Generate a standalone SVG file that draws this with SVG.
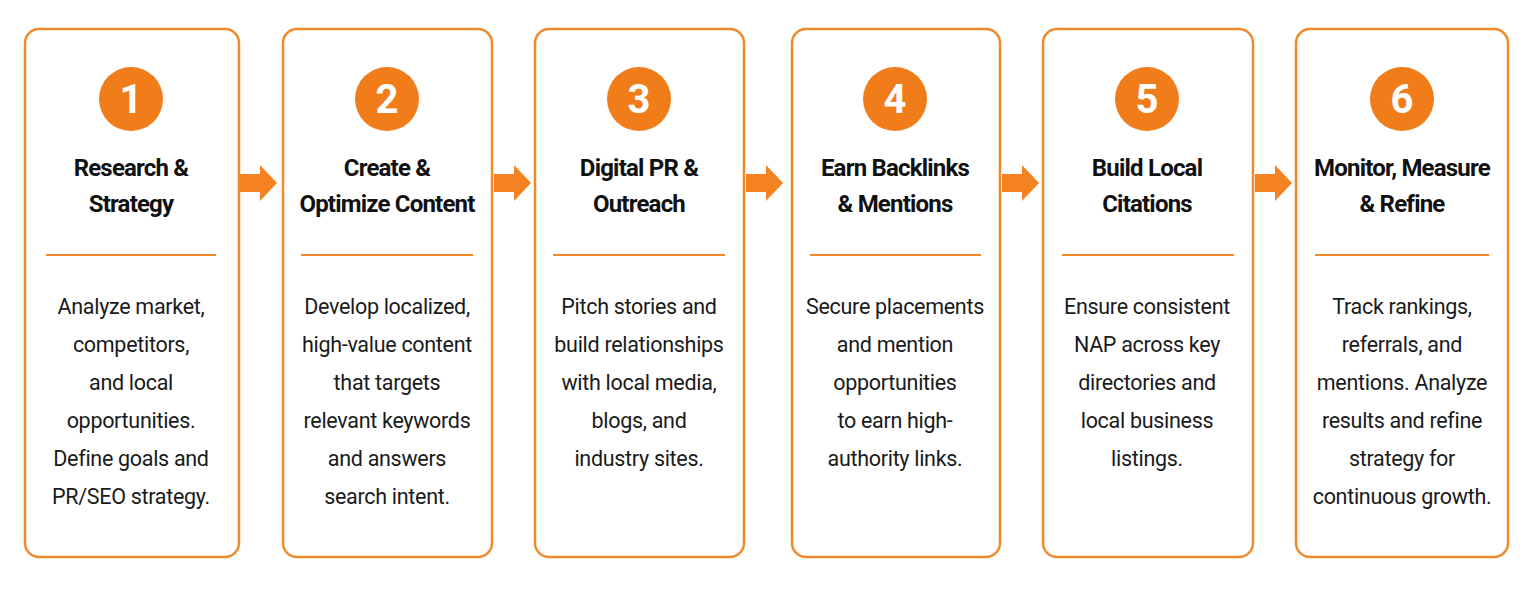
<svg xmlns="http://www.w3.org/2000/svg" width="1535" height="589" viewBox="0 0 1535 589">
<defs>
<style>
.card{fill:#fff;stroke:#f08a2c;stroke-width:2.5}
.num{fill:#f07d1a}
.numt{fill:#fff;font-family:Roboto,"Liberation Sans",sans-serif;font-weight:bold;font-size:40px;text-anchor:middle}
.title{fill:#111;font-family:Roboto,"Liberation Sans",sans-serif;font-weight:bold;font-size:24px;text-anchor:middle;letter-spacing:-0.8px}
.body{fill:#1a1a1a;font-family:Roboto,"Liberation Sans",sans-serif;font-size:21.5px;text-anchor:middle;letter-spacing:-0.3px}
.div{stroke:#f08a2c;stroke-width:2}
.arr{fill:#f58220}
</style>
<path id="a" d="M0,-9 H20 V-18 L37,0 L20,18 V9 H0 Z"/>
</defs>
<rect width="1535" height="589" fill="#fff"/>
<g id="connectors">
<use href="#a" class="arr" x="240" y="183"/>
<use href="#a" class="arr" x="494" y="183"/>
<use href="#a" class="arr" x="746" y="183"/>
<use href="#a" class="arr" x="1002" y="183"/>
<use href="#a" class="arr" x="1255" y="183"/>
</g>
<g id="n1">
<rect class="card" x="25" y="29" width="214" height="528" rx="14"/>
<circle class="num" cx="131" cy="99" r="32"/><text class="numt" x="131" y="113">1</text>
<text class="title" x="131" y="176">Research &amp;</text><text class="title" x="131" y="212">Strategy</text>
<line class="div" x1="46" y1="255" x2="216" y2="255"/>
<text class="body" x="131" y="314">Analyze market,</text><text class="body" x="131" y="352">competitors,</text><text class="body" x="131" y="390">and local</text><text class="body" x="131" y="428">opportunities.</text><text class="body" x="131" y="466">Define goals and</text><text class="body" x="131" y="504">PR/SEO strategy.</text>
</g>
<g id="n2">
<rect class="card" x="283" y="29" width="209" height="528" rx="14"/>
<circle class="num" cx="387" cy="99" r="32"/><text class="numt" x="387" y="113">2</text>
<text class="title" x="387" y="176">Create &amp;</text><text class="title" x="387" y="212">Optimize Content</text>
<line class="div" x1="301" y1="255" x2="473" y2="255"/>
<text class="body" x="387" y="314">Develop localized,</text><text class="body" x="387" y="352">high-value content</text><text class="body" x="387" y="390">that targets</text><text class="body" x="387" y="428">relevant keywords</text><text class="body" x="387" y="466">and answers</text><text class="body" x="387" y="504">search intent.</text>
</g>
<g id="n3">
<rect class="card" x="535" y="29" width="209" height="528" rx="14"/>
<circle class="num" cx="639" cy="99" r="32"/><text class="numt" x="639" y="113">3</text>
<text class="title" x="639" y="176">Digital PR &amp;</text><text class="title" x="639" y="212">Outreach</text>
<line class="div" x1="553" y1="255" x2="725" y2="255"/>
<text class="body" x="639" y="314">Pitch stories and</text><text class="body" x="639" y="352">build relationships</text><text class="body" x="639" y="390">with local media,</text><text class="body" x="639" y="428">blogs, and</text><text class="body" x="639" y="466">industry sites.</text>
</g>
<g id="n4">
<rect class="card" x="792" y="29" width="208" height="528" rx="14"/>
<circle class="num" cx="895" cy="99" r="32"/><text class="numt" x="895" y="113">4</text>
<text class="title" x="895" y="176">Earn Backlinks</text><text class="title" x="895" y="212">&amp; Mentions</text>
<line class="div" x1="810" y1="255" x2="981" y2="255"/>
<text class="body" x="895" y="314">Secure placements</text><text class="body" x="895" y="352">and mention</text><text class="body" x="895" y="390">opportunities</text><text class="body" x="895" y="428">to earn high-</text><text class="body" x="895" y="466">authority links.</text>
</g>
<g id="n5">
<rect class="card" x="1043" y="29" width="210" height="528" rx="14"/>
<circle class="num" cx="1147" cy="99" r="32"/><text class="numt" x="1147" y="113">5</text>
<text class="title" x="1147" y="176">Build Local</text><text class="title" x="1147" y="212">Citations</text>
<line class="div" x1="1062" y1="255" x2="1234" y2="255"/>
<text class="body" x="1147" y="314">Ensure consistent</text><text class="body" x="1147" y="352">NAP across key</text><text class="body" x="1147" y="390">directories and</text><text class="body" x="1147" y="428">local business</text><text class="body" x="1147" y="466">listings.</text>
</g>
<g id="n6">
<rect class="card" x="1296" y="29" width="212" height="528" rx="14"/>
<circle class="num" cx="1402" cy="99" r="32"/><text class="numt" x="1402" y="113">6</text>
<text class="title" x="1402" y="176">Monitor, Measure</text><text class="title" x="1402" y="212">&amp; Refine</text>
<line class="div" x1="1315" y1="255" x2="1489" y2="255"/>
<text class="body" x="1402" y="314">Track rankings,</text><text class="body" x="1402" y="352">referrals, and</text><text class="body" x="1402" y="390">mentions. Analyze</text><text class="body" x="1402" y="428">results and refine</text><text class="body" x="1402" y="466">strategy for</text><text class="body" x="1402" y="504">continuous growth.</text>
</g>
</svg>
